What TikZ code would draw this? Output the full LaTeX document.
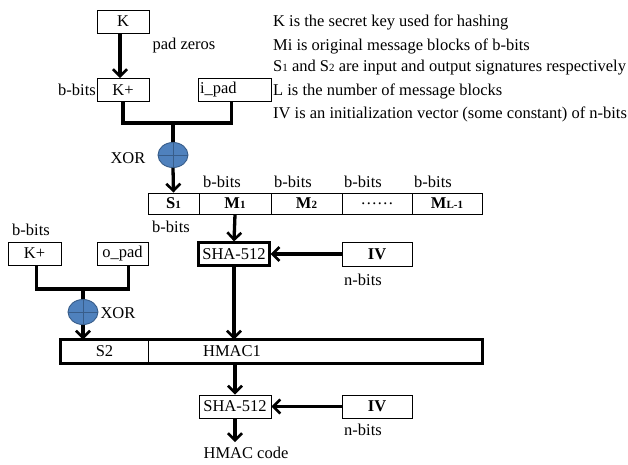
\documentclass[tikz,border=0pt]{standalone}
\usepackage{fontspec}
\setmainfont{Liberation Serif}
\usetikzlibrary{arrows.meta,shapes.geometric}
\definecolor{xorblue}{HTML}{4F81BD}
\definecolor{xoredge}{HTML}{385D8A}
\newcommand{\smallsub}[1]{{\fontsize{11}{11}\selectfont #1}}
\begin{document}
\begin{tikzpicture}[x=1pt,y=-1pt,
  font=\fontsize{16.5}{18}\selectfont,
  box/.style={draw, line width=0.9pt, minimum height=23pt, inner sep=0pt},
  cell/.style={draw, line width=0.9pt, minimum height=21pt, inner sep=0pt, font=\fontsize{16.5}{18}\selectfont\bfseries},
  conn/.style={line width=3.3pt},
  arr/.style={line width=3.3pt, -{Straight Barb[length=7pt,width=14pt,line width=2.6pt]}},
  xor/.style={ellipse, fill=xorblue, draw=xoredge, line width=0.9pt, minimum width=30pt, minimum height=25pt, inner sep=0pt},
  lbl/.style={inner sep=0pt},
  legend/.style={inner sep=0pt, anchor=west}]
\useasboundingbox (0,0) rectangle (628,464);

% top key boxes
\node[box, minimum width=52pt] (K) at (123,21.5) {K};
\node[lbl] (padz) at (184,46) {pad zeros};
\node[box, minimum width=52pt] (Kp) at (123,90) {K+};
\node[lbl, anchor=east] (bb0) at (96,90) {b-bits};
\node[box, minimum width=73pt, text width=69pt, align=left] (ip) at (234.5,90) {i\_pad};
\draw[arr] ([xshift=-3pt]K.south) -- ([xshift=-3pt]Kp.north);

% legend
\node[legend] (lg1) at (273,22) {K is the secret key used for hashing};
\node[legend] (lg2) at (273,46) {Mi is original message blocks of b-bits};
\node[legend] (lg3) at (273,68) {S\smallsub{1} and S\smallsub{2} are input and output signatures respectively};
\node[legend] (lg4) at (273,91) {L is the number of message blocks};
\node[legend] (lg5) at (273,114) {IV is an initialization vector (some constant) of n-bits};

% first XOR
\coordinate (j1) at (173,123);
\draw[conn] (Kp.south) |- (j1) -| ([xshift=-3pt]ip.south);
\node[xor] (x1) at (173,155) {};
\draw[xoredge, line width=0.9pt] (x1.north) -- (x1.south) (x1.west) -- (x1.east);
\draw[conn] (j1) -- (x1.north);
\node[lbl] (xorl1) at (128,158) {XOR};

% message row
\node[cell, minimum width=51pt] (S1) at (173.5,203.5) {S\smallsub{1}};
\node[cell, minimum width=72pt] (M1) at (235,203.5) {M\smallsub{1}};
\node[cell, minimum width=71pt] (M2) at (306.5,203.5) {M\smallsub{2}};
\node[cell, minimum width=70pt] (Md) at (377,203.5) {\mdseries ……};
\node[cell, minimum width=70pt] (ML) at (447,203.5) {M\smallsub{L-1}};
\draw[arr] (x1.south) -- (S1.north);
\node[lbl] (bb1) at (222,182) {b-bits};
\node[lbl] (bb2) at (293,182) {b-bits};
\node[lbl] (bb3) at (363,182) {b-bits};
\node[lbl] (bb4) at (433,182) {b-bits};
\node[lbl] (bb5) at (171,227) {b-bits};

% first hash
\node[box, line width=2.2pt, minimum width=71pt, minimum height=23pt] (H1) at (234,254) {SHA-512};
\node[box, minimum width=70pt, minimum height=24pt, font=\fontsize{16.5}{18}\selectfont\bfseries] (IV1) at (377,254) {IV};
\node[lbl] (nb1) at (363,280) {n-bits};
\draw[arr] (M1.south) -- (H1.north);
\draw[arr] (IV1.west) -- (H1.east);

% outer pad
\node[lbl] (bb6) at (31,230) {b-bits};
\node[box, minimum width=53pt] (Kp2) at (34.5,253.5) {K+};
\node[box, minimum width=51pt] (op) at (122.5,253.5) {o\_pad};
\coordinate (j2) at (83,289);
\draw[conn] ([xshift=2pt]Kp2.south) |- (j2) -| ([xshift=6pt]op.south);
\node[xor] (x2) at (83,312) {};
\draw[xoredge, line width=0.9pt] (x2.north) -- (x2.south) (x2.west) -- (x2.east);
\draw[conn] (j2) -- (x2.north);
\node[lbl] (xorl2) at (118,313) {XOR};

% second row
\node[draw, line width=0.9pt, minimum width=87pt, minimum height=23pt, inner sep=0pt] (S2) at (104.5,351.5) {S2};
\node[draw, line width=0.9pt, minimum width=334pt, minimum height=23pt, inner sep=0pt] (HM) at (315,351.5) {};
\draw[line width=2.2pt] (S2.north west) rectangle (HM.south east);
\node[lbl] (hm1) at (232,351.5) {HMAC1};
\draw[arr] (x2.south) -- (x2.south |- S2.north);

% second hash
\node[box, minimum width=72pt] (H2) at (235,406.5) {SHA-512};
\node[box, minimum width=70pt, font=\fontsize{16.5}{18}\selectfont\bfseries] (IV2) at (377,406.5) {IV};
\node[lbl] (nb2) at (363,430) {n-bits};
\draw[arr] (H1.south) -- (H1.south |- HM.north);
\draw[arr] (H2.north |- HM.south) -- (H2.north);
\draw[arr] (IV2.west) -- (H2.east);
\node[lbl] (code) at (246,453) {HMAC code};
\coordinate (c1) at (235,442);
\draw[arr] (H2.south) -- (c1);
\end{tikzpicture}
\end{document}
